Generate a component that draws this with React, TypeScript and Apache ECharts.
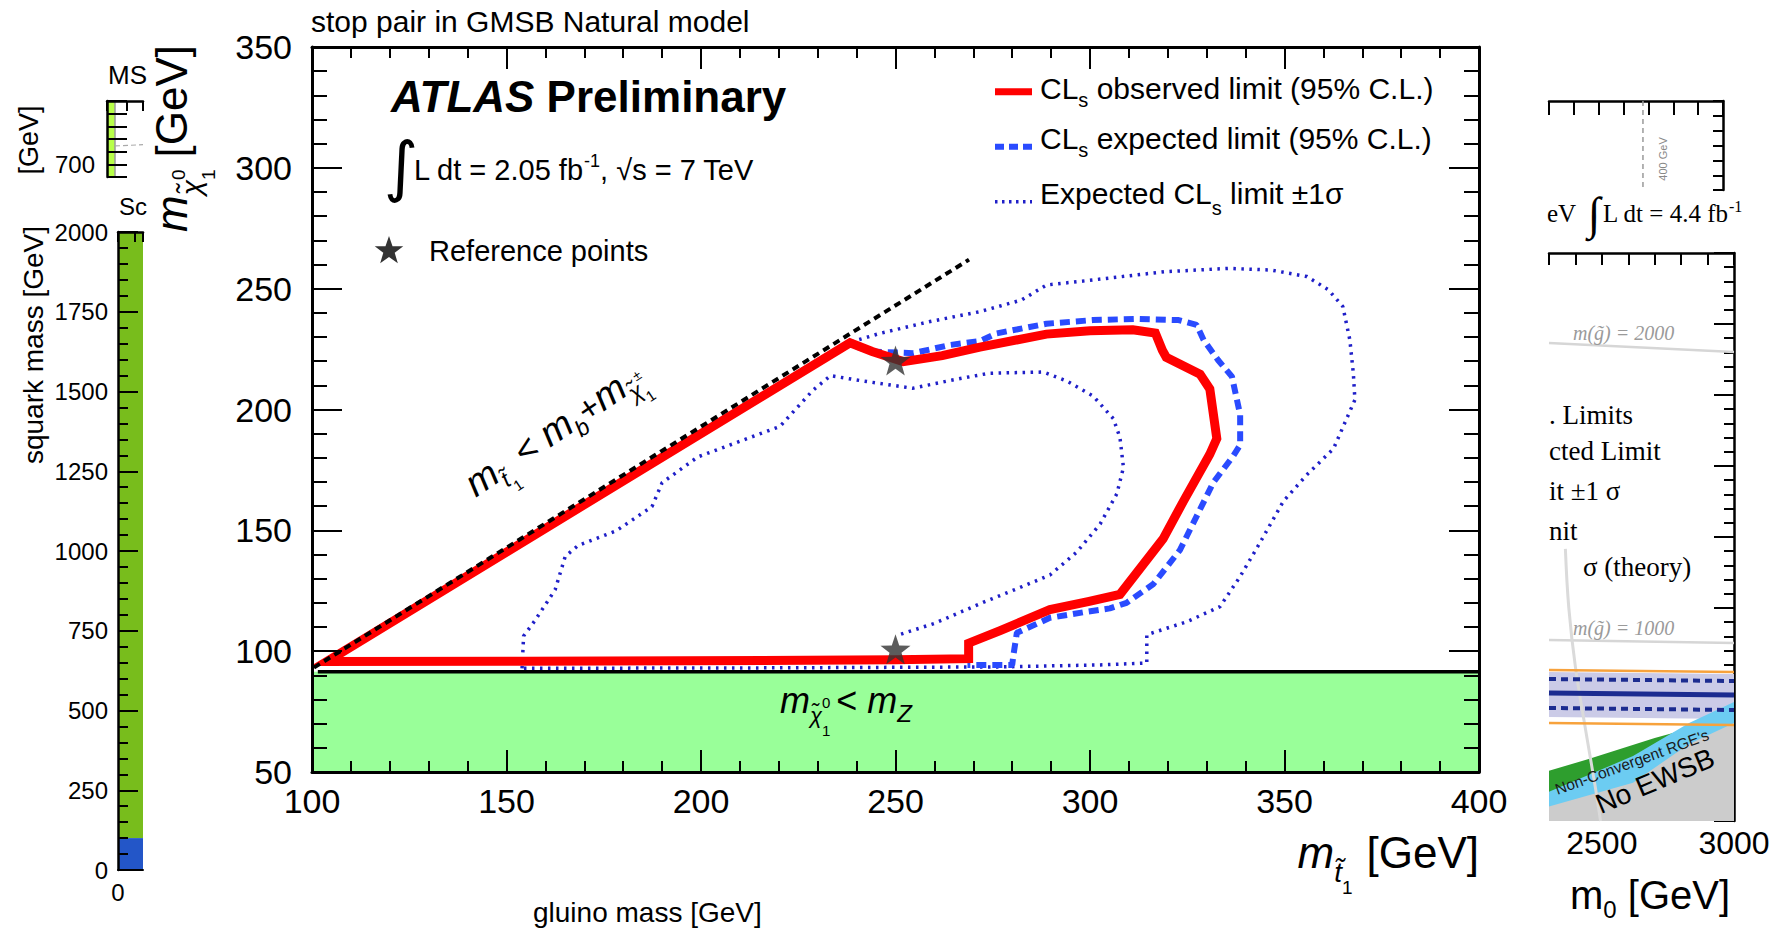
import React, { useEffect, useRef } from "react";
import * as echarts from "echarts";

// ---------------- main panel: stop pair in GMSB natural model ----------------
const stopMassRange = [100, 400];
const neutralinoMassRange = [50, 350];
const axisStep = 50;

const observedLimit = [
  [155, 95.8], [103.8, 95.7], [238.3, 227.6], [244, 224], [252, 219.8], [262, 222.3], [271.7, 225.8],
  [288.8, 231.2], [300, 232.6], [311, 233], [316.8, 231.6], [318.6, 224.5], [319.6, 221.6],
  [328.3, 214.6], [330.8, 208.5], [332.6, 188], [330.8, 181.5], [324, 162], [318.8, 146.5],
  [307.7, 123.5], [299.5, 120.5], [289.7, 117.2], [276.9, 108.5], [268.8, 103.3],
  [268.8, 96.9], [250, 96.4], [155, 95.8],
];

const expectedLimit = [
  [240, 226], [243.5, 224], [254.6, 223.3], [264, 226.7], [271.7, 228.3], [276, 231.5],
  [288.8, 235.5], [300.7, 237], [311.7, 237.5], [322.8, 237], [327.4, 235], [329.2, 228.8],
  [332.9, 220.5], [336.5, 213.6], [338.6, 197.8], [338.6, 185.3], [336.8, 180.7], [331.7, 169.8],
  [327.4, 155.8], [323.1, 141.8], [316.3, 127.8], [309.4, 120], [305.1, 117.7], [298.3, 116.1],
  [289.7, 113.8], [281.2, 107.6], [280.3, 98.2], [280, 94.3], [268.5, 94.3],
];

const expectedPlusOneSigma = [
  [238.7, 228], [246, 231.5], [258.9, 236.4], [271.7, 240.5], [282.4, 245.3], [288.8, 251.5],
  [300.7, 253.6], [319.1, 257], [335.6, 258.4], [346.6, 257.7], [355.8, 255], [361.3, 249.5],
  [365, 242.6], [366.8, 228.8], [367.7, 214.9], [368.1, 204], [362.6, 183.8], [355.7, 172.9],
  [349.7, 162], [343.7, 144.9], [338.6, 130.9], [333.4, 118.4], [324.9, 112.2], [314.6, 106.8],
  [314.6, 95.1], [302.6, 94.3], [276.9, 93.5], [220, 93.1], [154, 92.9],
];

const expectedMinusOneSigma = [
  [154, 92.9], [154.4, 106.3], [157.2, 112.4], [162.5, 125.4], [165.1, 139.2], [168.4, 143.7],
  [178.2, 149.8], [187.4, 159.8], [190, 169.7], [199.2, 180.4], [220.3, 193], [228.8, 208],
  [233.3, 214], [241.2, 211.9], [254.4, 208.8], [264, 212], [274, 215], [288, 215.5],
  [294, 211.8], [300.8, 205.6], [306, 196.2], [307.7, 188.4], [308.6, 176], [306.9, 165.1],
  [302.6, 152.6], [296.6, 141], [289.7, 131.5], [281.2, 125.8], [273, 120.5], [260, 111.5], [250.4, 106.5],
];

const kinematicLimit = [[100.5, 93.2], [268.9, 262]];
const zBosonLimit = [[101.5, 91.5], [400, 91.5]];
const zExcludedBand = [50, 91.5];
const referencePoints = [[250, 220.3], [250, 100.8]];

// ---------------- left fragments ----------------
const squarkRange = [0, 2000];
const squarkStep = 250;
const squarkBlueBand = [0, 100];
const squarkGreenBand = [100, 2000];
const gluinoFragmentRange = [0, 150];
const msbRange = [680, 800];
const msbLabel = 700;
const msbStrip = [0, 8];
const msbStripEdge = [[8, 800], [8, 680]];
const msbDashed = [[8, 729], [36, 731]];

// ---------------- right fragments ----------------
const m0Range = [2300, 3000];
const m0Labels = [2500, 3000];
const topPanelMarker = [[2678, 0], [2678, 89]];
const gluino2000 = [[2300, 404], [3000, 396.3]];
const gluino1000 = [[2300, 153], [3000, 150.4]];
const squarkContour = [[2362, 230], [2375, 180], [2400, 130], [2440, 75], [2475, 29], [2495, 0]];
const bandLower = [[2300, 87.9], [3000, 86.2]];
const bandUpper = [[2300, 125.9], [3000, 124.2]];
const theoryUpper = [[2300, 127.6], [3000, 125.9]];
const theoryLower = [[2300, 82.8], [3000, 81.1]];
const expectedUpper = [[2300, 120], [3000, 118.3]];
const expectedLower = [[2300, 95.5], [3000, 93.8]];
const observedRight = [[2300, 108.2], [3000, 106.5]];
const nonConvergentEdge = [[2300, 42.4], [2450, 52.4], [2700, 70.1], [2769, 74.4], [3000, 93]];
const lightBlueEdge = [[2300, 24.8], [2618, 54.9], [2830, 82.8], [3000, 100.6]];
const noEwsbEdge = [[2300, 12.3], [2618, 32.4], [2830, 65.1], [3000, 82.8]];

const FONT = "'Liberation Sans', Arial, Helvetica, sans-serif";
const SERIF = "'Liberation Serif', 'DejaVu Serif', serif";
const TILDE = "\u0303";

let measureCtx: any = null;
function textWidth(t: string, fs: number, fam: string, it?: boolean, b?: boolean) {
  if (!measureCtx) measureCtx = document.createElement("canvas").getContext("2d");
  measureCtx.font = `${it ? "italic " : ""}${b ? "bold " : ""}${fs}px ${fam}`;
  return measureCtx.measureText(t).width;
}

type Run = { t: string; fs: number; dy?: number; it?: boolean; b?: boolean; fam?: string; stay?: boolean; gap?: number; color?: string };

function runsWidth(runs: Run[]) {
  let w = 0;
  for (const r of runs) if (!r.stay) w += textWidth(r.t, r.fs, r.fam || FONT, r.it, r.b) + (r.gap || 0);
  return w;
}

function runsToEls(runs: Run[], x0: number, base: number, color = "#000") {
  const els: any[] = [];
  let cx = x0;
  for (const r of runs) {
    const fam = r.fam || FONT;
    const w = textWidth(r.t, r.fs, fam, r.it, r.b);
    const rb = base + (r.dy || 0);
    els.push({
      type: "text", x: cx, y: rb - 0.35 * r.fs, silent: true,
      style: { text: r.t, fontSize: r.fs, fontFamily: fam, fontStyle: r.it ? "italic" : "normal", fontWeight: r.b ? "bold" : "normal", fill: r.color || color, align: "left", verticalAlign: "middle" },
    });
    if (!r.stay) cx += w + (r.gap || 0);
  }
  return els;
}

function starPts(cx: number, cy: number, R: number) {
  const pts: number[][] = [];
  for (let i = 0; i < 10; i++) {
    const rad = i % 2 === 0 ? R : R * 0.4;
    const a = -Math.PI / 2 + (i * Math.PI) / 5;
    pts.push([cx + rad * Math.cos(a), cy + rad * Math.sin(a)]);
  }
  return pts;
}

const STAR = "path://M0,-10 L2.35,-3.24 L9.51,-3.09 L3.8,1.24 L5.88,8.09 L0,4 L-5.88,8.09 L-3.8,1.24 L-9.51,-3.09 L-2.35,-3.24 Z";

function simpleText(text: string, x: number, y: number, fs: number, opts: any = {}) {
  return {
    type: "text", x, y, rotation: opts.rotation || 0, silent: true,
    style: { text, fontSize: fs, fontFamily: opts.fam || FONT, fontStyle: opts.it ? "italic" : "normal", fill: opts.color || "#000", align: opts.align || "left", verticalAlign: "middle" },
  };
}

function buildGraphics() {
  const g: any[] = [];
  // ATLAS label
  g.push(...runsToEls([{ t: "ATLAS", fs: 44, it: true, b: true }, { t: " Preliminary", fs: 44, b: true }], 391, 112));
  // luminosity
  g.push({ type: "text", x: 401, y: 166, silent: true, style: { text: "∫", fontSize: 66, fontFamily: "'DejaVu Sans', sans-serif", fill: "#000", align: "center", verticalAlign: "middle" } });
  g.push(...runsToEls([{ t: "L dt = 2.05 fb", fs: 29 }, { t: "-1", fs: 18, dy: -13 }, { t: ", ", fs: 29 }, { t: "√", fs: 29 }, { t: "s = 7 TeV", fs: 29 }], 414, 180));
  // reference points legend
  g.push({ type: "polygon", silent: true, shape: { points: starPts(389, 251, 15) }, style: { fill: "#333" } });
  g.push(simpleText("Reference points", 429, 251, 29));

  // legend
  const lx0 = 995, lx1 = 1032, tx = 1040;
  g.push({ type: "line", silent: true, shape: { x1: lx0, y1: 91.7, x2: lx1, y2: 91.7 }, style: { stroke: "#ff0000", lineWidth: 7 } });
  g.push({ type: "line", silent: true, shape: { x1: lx0, y1: 146.7, x2: lx1, y2: 146.7 }, style: { stroke: "#2a4bff", lineWidth: 6, lineDash: [9, 5] } });
  g.push({ type: "line", silent: true, shape: { x1: lx0, y1: 201.7, x2: lx1, y2: 201.7 }, style: { stroke: "#1f1fc8", lineWidth: 3.5, lineDash: [2.5, 4.5] } });
  g.push(...runsToEls([{ t: "CL", fs: 30 }, { t: "s", fs: 20, dy: 8 }, { t: " observed limit (95% C.L.)", fs: 30 }], tx, 98.5));
  g.push(...runsToEls([{ t: "CL", fs: 30 }, { t: "s", fs: 20, dy: 8 }, { t: " expected limit (95% C.L.)", fs: 30 }], tx, 149));
  g.push(...runsToEls([{ t: "Expected CL", fs: 30 }, { t: "s", fs: 20, dy: 11 }, { t: " limit ±1σ", fs: 30 }], tx, 203.5));

  // axis titles
  const xTitle: Run[] = [{ t: "m", fs: 44, it: true }, { t: "t" + TILDE, fs: 28, it: true, dy: 14 }, { t: "1", fs: 19, dy: 26, gap: 14 }, { t: "[GeV]", fs: 44 }];
  g.push(...runsToEls(xTitle, 1479 - runsWidth(xTitle), 868));
  const yTitle: Run[] = [{ t: "m", fs: 44, it: true }, { t: "χ" + TILDE, fs: 28, it: true, dy: 14 }, { t: "0", fs: 19, dy: -2, stay: true }, { t: "1", fs: 19, dy: 28, gap: 12 }, { t: "[GeV]", fs: 44 }];
  g.push({ type: "group", x: 187, y: 232, rotation: Math.PI / 2, children: runsToEls(yTitle, 0, 0) });

  // kinematic boundary label
  const diag: Run[] = [
    { t: "m", fs: 38, it: true }, { t: "t" + TILDE, fs: 23, it: true, dy: 9 }, { t: "1", fs: 15, dy: 18, gap: 2 },
    { t: " < ", fs: 36 }, { t: "m", fs: 38, it: true }, { t: "b", fs: 23, it: true, dy: 9 }, { t: "+", fs: 34 },
    { t: "m", fs: 38, it: true }, { t: "χ" + TILDE, fs: 23, it: true, dy: 9 }, { t: "±", fs: 14, dy: -7, stay: true }, { t: "1", fs: 15, dy: 18 },
  ];
  g.push({ type: "group", x: 476, y: 498, rotation: (34 * Math.PI) / 180, children: runsToEls(diag, 0, 0) });

  // Z band label
  g.push(...runsToEls([
    { t: "m", fs: 36, it: true }, { t: "χ" + TILDE, fs: 22, it: true, dy: 10 }, { t: "0", fs: 15, dy: -6, stay: true },
    { t: "1", fs: 15, dy: 22, gap: 6 }, { t: "< ", fs: 36 }, { t: "m", fs: 36, it: true }, { t: "Z", fs: 24, it: true, dy: 8 },
  ], 780, 713.5));

  // left fragments
  g.push(simpleText("MS", 108, 75, 26));
  g.push(simpleText("[GeV]", 29, 140, 27, { rotation: Math.PI / 2, align: "center" }));
  g.push(simpleText("Sc", 119, 206, 24));
  g.push(simpleText("squark mass [GeV]", 33, 345, 28, { rotation: Math.PI / 2, align: "center" }));
  g.push(simpleText("gluino mass [GeV]", 533, 912, 28));

  // right fragments
  g.push(simpleText("eV", 1547, 213, 25, { fam: SERIF }));
  g.push(simpleText("∫", 1594, 213, 46, { fam: SERIF, align: "center" }));
  g.push(...runsToEls([{ t: "L dt = 4.4 fb", fs: 25, fam: SERIF }, { t: "-1", fs: 16, dy: -10, fam: SERIF }], 1603, 222));
  g.push(simpleText("400 GeV", 1663, 159, 11, { rotation: Math.PI / 2, align: "center", color: "#888" }));
  const frag: any[] = [[". Limits", 1549, 415], ["cted Limit", 1549, 451], ["it ±1 σ", 1549, 491], ["nit", 1549, 531], ["σ (theory)", 1583, 567]];
  for (const [t, x, y] of frag) g.push(simpleText(t, x, y, 27, { fam: SERIF }));
  g.push(simpleText("m(g" + TILDE + ") = 2000", 1573, 333, 20, { fam: SERIF, it: true, color: "#9a9a9a" }));
  g.push(simpleText("m(g" + TILDE + ") = 1000", 1573, 628, 20, { fam: SERIF, it: true, color: "#9a9a9a" }));
  g.push(simpleText("Non-Convergent RGE's", 1632, 762, 15.5, { rotation: (20 * Math.PI) / 180, align: "center", color: "#1a1a1a" }));
  g.push(simpleText("No EWSB", 1655, 781, 28, { rotation: (23 * Math.PI) / 180, align: "center" }));
  g.push(...runsToEls([{ t: "m", fs: 40 }, { t: "0", fs: 24, dy: 9 }, { t: " [GeV]", fs: 40 }], 1570, 909));
  return g.map((e) => ({ ...e, z: 100 }));
}

const blackLine = (w: number) => ({ show: true, onZero: false, lineStyle: { color: "#000", width: w } });
const tick = (len: number, show = true) => ({ show, inside: true, length: len, lineStyle: { color: "#000", width: 2 } });
const minor = (len: number, show = true) => ({ show, splitNumber: 5, length: len, lineStyle: { color: "#000", width: 2 } });
const noSplit = { splitLine: { show: false }, minorSplitLine: { show: false } };
const hideLabel = { axisLabel: { show: false } };

const bandPolygon = [...bandUpper, ...bandLower.slice().reverse()];

function buildOption() {
  const lineBase = { type: "line", symbol: "none", showSymbol: false, silent: true, animation: false };
  return {
    animation: false,
    textStyle: { fontFamily: FONT },
    title: { text: "stop pair in GMSB Natural model", left: 311, top: 6, padding: 0, textStyle: { fontSize: 30, fontWeight: "normal", color: "#000", fontFamily: FONT } },
    grid: [
      { left: 312, top: 47, width: 1167, height: 725 },
      { left: 118, top: 232, width: 25, height: 638 },
      { left: 107, top: 101, width: 36, height: 76 },
      { left: 1549, top: 101, width: 174, height: 89 },
      { left: 1549, top: 253, width: 185, height: 568 },
    ],
    xAxis: [
      { gridIndex: 0, type: "value", position: "bottom", min: stopMassRange[0], max: stopMassRange[1], interval: axisStep, z: 10, axisLine: blackLine(3), axisTick: tick(22), minorTick: minor(11), axisLabel: { fontSize: 34, color: "#000", margin: 12, fontFamily: FONT }, ...noSplit },
      { gridIndex: 0, type: "value", position: "top", min: stopMassRange[0], max: stopMassRange[1], interval: axisStep, z: 10, axisLine: blackLine(3), axisTick: tick(22), minorTick: minor(11), ...hideLabel, ...noSplit },
      { gridIndex: 1, type: "value", position: "bottom", min: gluinoFragmentRange[0], max: gluinoFragmentRange[1], interval: 100, z: 10, axisLine: blackLine(2), axisTick: tick(0, false), axisLabel: { fontSize: 24, color: "#000", margin: 10, formatter: (v: number) => (v === 0 ? "0" : "") }, ...noSplit },
      { gridIndex: 1, type: "value", position: "top", min: gluinoFragmentRange[0], max: gluinoFragmentRange[1], interval: 100, z: 10, axisLine: blackLine(2.5), axisTick: tick(10), ...hideLabel, ...noSplit },
      { gridIndex: 2, type: "value", position: "top", min: 0, max: 36, interval: 20, z: 10, axisLine: blackLine(2.5), axisTick: tick(10), ...hideLabel, ...noSplit },
      { gridIndex: 3, type: "value", position: "top", min: m0Range[0], max: m0Range[1], interval: 100, axisLine: blackLine(2.5), axisTick: tick(14), ...hideLabel, ...noSplit },
      { gridIndex: 4, type: "value", position: "bottom", min: m0Range[0], max: m0Range[1], interval: 100, axisLine: { show: false }, axisTick: { show: false }, axisLabel: { fontSize: 32, color: "#000", margin: 6, formatter: (v: number) => (m0Labels.includes(v) ? String(v) : "") }, ...noSplit },
      { gridIndex: 4, type: "value", position: "top", min: m0Range[0], max: m0Range[1], interval: 100, axisLine: blackLine(2.5), axisTick: tick(12), ...hideLabel, ...noSplit },
    ],
    yAxis: [
      { gridIndex: 0, type: "value", position: "left", min: neutralinoMassRange[0], max: neutralinoMassRange[1], interval: axisStep, z: 10, axisLine: blackLine(3), axisTick: tick(30), minorTick: minor(15), axisLabel: { fontSize: 34, color: "#000", margin: 20, fontFamily: FONT }, ...noSplit },
      { gridIndex: 0, type: "value", position: "right", min: neutralinoMassRange[0], max: neutralinoMassRange[1], interval: axisStep, z: 10, axisLine: blackLine(3), axisTick: tick(30), minorTick: minor(15), ...hideLabel, ...noSplit },
      { gridIndex: 1, type: "value", position: "left", min: squarkRange[0], max: squarkRange[1], interval: squarkStep, z: 10, axisLine: blackLine(2.5), axisTick: tick(20), minorTick: minor(10), axisLabel: { fontSize: 24, color: "#000", margin: 10, formatter: (v: number) => String(v) }, ...noSplit },
      { gridIndex: 2, type: "value", position: "left", min: msbRange[0], max: msbRange[1], interval: 20, z: 10, axisLine: blackLine(2.5), axisTick: tick(20), axisLabel: { fontSize: 24, color: "#000", margin: 12, formatter: (v: number) => (v === msbLabel ? String(v) : "") }, ...noSplit },
      { gridIndex: 3, type: "value", position: "right", inverse: true, min: 0, max: 89, interval: 15, axisLine: blackLine(2.5), axisTick: tick(10), ...hideLabel, ...noSplit },
      { gridIndex: 4, type: "value", position: "right", min: 0, max: 480, interval: 60, axisLine: blackLine(2.5), axisTick: tick(20), minorTick: minor(10), ...hideLabel, ...noSplit },
    ],
    series: [
      // main panel
      { ...lineBase, name: "Z region", xAxisIndex: 0, yAxisIndex: 0, data: zBosonLimit, lineStyle: { opacity: 0 }, z: 1,
        markArea: { silent: true, itemStyle: { color: "#99ff99" }, data: [[{ yAxis: zExcludedBand[0] }, { yAxis: zExcludedBand[1] }]] } },
      { ...lineBase, name: "mZ limit", xAxisIndex: 0, yAxisIndex: 0, data: zBosonLimit, lineStyle: { color: "#000", width: 3.5 } },
      { ...lineBase, name: "Expected CLs limit ±1σ", xAxisIndex: 0, yAxisIndex: 0, data: expectedPlusOneSigma, lineStyle: { color: "#1f1fc8", width: 3.5, type: [2.5, 5.5] } },
      { ...lineBase, name: "Expected CLs limit ±1σ", xAxisIndex: 0, yAxisIndex: 0, data: expectedMinusOneSigma, lineStyle: { color: "#1f1fc8", width: 3.5, type: [2.5, 5.5] } },
      { ...lineBase, name: "CLs expected limit (95% C.L.)", xAxisIndex: 0, yAxisIndex: 0, data: expectedLimit, lineStyle: { color: "#2a4bff", width: 6, type: [10, 6] } },
      { ...lineBase, name: "CLs observed limit (95% C.L.)", xAxisIndex: 0, yAxisIndex: 0, data: observedLimit, lineStyle: { color: "#ff0000", width: 9, join: "miter", miterLimit: 5 } },
      { ...lineBase, name: "kinematic limit", xAxisIndex: 0, yAxisIndex: 0, data: kinematicLimit, lineStyle: { color: "#000", width: 4, type: [7, 5] } },
      { type: "scatter", name: "Reference points", xAxisIndex: 0, yAxisIndex: 0, data: referencePoints, symbol: STAR, symbolSize: 30, itemStyle: { color: "#333" }, silent: true, z: 5 },
      // left squark strip
      { ...lineBase, name: "squark strip", xAxisIndex: 2, yAxisIndex: 2, data: [[gluinoFragmentRange[0], squarkRange[0]], [gluinoFragmentRange[1], squarkRange[0]]], lineStyle: { opacity: 0 },
        markArea: { silent: true, data: [
          [{ yAxis: squarkBlueBand[0], itemStyle: { color: "#2356c8" } }, { yAxis: squarkBlueBand[1] }],
          [{ yAxis: squarkGreenBand[0], itemStyle: { color: "#78bd1c" } }, { yAxis: squarkGreenBand[1] }],
        ] } },
      // upper-left small panel
      { ...lineBase, name: "msb strip", xAxisIndex: 4, yAxisIndex: 3, data: [[0, msbRange[0]], [36, msbRange[0]]], lineStyle: { opacity: 0 },
        markArea: { silent: true, data: [[{ xAxis: msbStrip[0], itemStyle: { color: "#b8ff4a" } }, { xAxis: msbStrip[1] }]] } },
      { ...lineBase, name: "msb edge", xAxisIndex: 4, yAxisIndex: 3, data: msbStripEdge, lineStyle: { color: "#999", width: 1.5 } },
      { ...lineBase, name: "msb dashed", xAxisIndex: 4, yAxisIndex: 3, data: msbDashed, lineStyle: { color: "#aaa", width: 1.2, type: [5, 3] } },
      // right-top panel
      { ...lineBase, name: "400 GeV", xAxisIndex: 5, yAxisIndex: 4, data: topPanelMarker, lineStyle: { color: "#999", width: 1.5, type: [5, 4] } },
      // right main panel
      { ...lineBase, name: "m(gluino)=2000", xAxisIndex: 6, yAxisIndex: 5, data: gluino2000, lineStyle: { color: "#d6d6d6", width: 2.5 } },
      { ...lineBase, name: "m(gluino)=1000", xAxisIndex: 6, yAxisIndex: 5, data: gluino1000, lineStyle: { color: "#d6d6d6", width: 2.5 } },
      { ...lineBase, name: "m(squark)", xAxisIndex: 6, yAxisIndex: 5, data: squarkContour, smooth: 0.4, lineStyle: { color: "#dadada", width: 3 } },
      {
        type: "custom", name: "expected ±1σ band", xAxisIndex: 6, yAxisIndex: 5, silent: true, data: [[m0Range[0], 0]],
        renderItem: (params: any, api: any) => ({
          type: "polygon",
          shape: { points: bandPolygon.map((p) => api.coord(p)) },
          style: { fill: "#cbcbe7" },
        }),
      },
      { ...lineBase, name: "theory up", xAxisIndex: 6, yAxisIndex: 5, data: theoryUpper, lineStyle: { color: "#f7a23c", width: 2.5 } },
      { ...lineBase, name: "theory down", xAxisIndex: 6, yAxisIndex: 5, data: theoryLower, lineStyle: { color: "#f7a23c", width: 2.5 } },
      { ...lineBase, name: "exp up", xAxisIndex: 6, yAxisIndex: 5, data: expectedUpper, lineStyle: { color: "#1c2c90", width: 4, type: [7, 5] } },
      { ...lineBase, name: "exp down", xAxisIndex: 6, yAxisIndex: 5, data: expectedLower, lineStyle: { color: "#1c2c90", width: 4, type: [7, 5] } },
      { ...lineBase, name: "observed", xAxisIndex: 6, yAxisIndex: 5, data: observedRight, lineStyle: { color: "#1c2c90", width: 5 } },
      { ...lineBase, name: "non-convergent", xAxisIndex: 6, yAxisIndex: 5, data: nonConvergentEdge, lineStyle: { opacity: 0 }, areaStyle: { color: "#2e9e2e", opacity: 1, origin: "start" } },
      { ...lineBase, name: "RGE", xAxisIndex: 6, yAxisIndex: 5, data: lightBlueEdge, lineStyle: { opacity: 0 }, areaStyle: { color: "#6cccf2", opacity: 1, origin: "start" } },
      { ...lineBase, name: "No EWSB", xAxisIndex: 6, yAxisIndex: 5, data: noEwsbEdge, lineStyle: { opacity: 0 }, areaStyle: { color: "#cccccc", opacity: 1, origin: "start" } },
    ],
    graphic: buildGraphics(),
  };
}

export default function App() {
  const ref = useRef<HTMLDivElement>(null);
  useEffect(() => {
    if (!ref.current) return;
    const chart = echarts.init(ref.current, undefined, { renderer: "svg" });
    chart.setOption(buildOption() as any);
    return () => chart.dispose();
  }, []);
  return <div ref={ref} style={{ position: "absolute", left: 0, top: 0, width: 1777, height: 929, background: "#fff" }} />;
}
